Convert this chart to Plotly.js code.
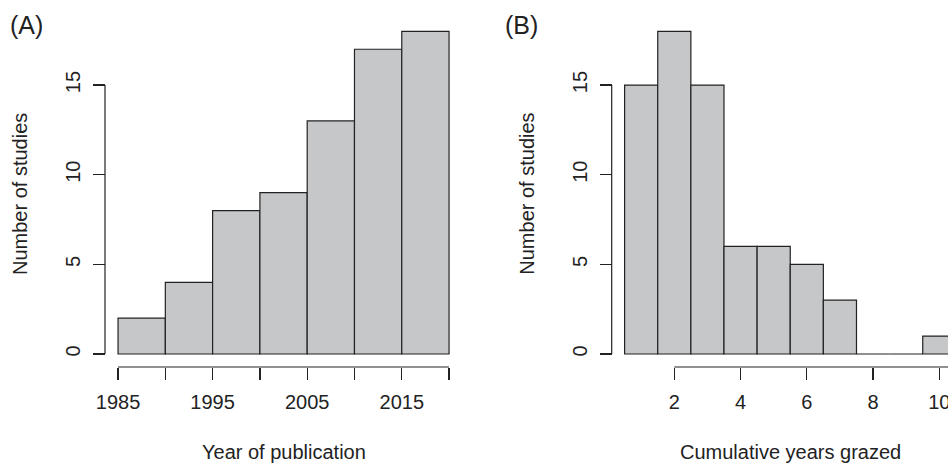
<!DOCTYPE html>
<html>
<head>
<meta charset="utf-8">
<script src="https://cdn.plot.ly/plotly-3.0.1.min.js"></script>
<style>html,body{margin:0;padding:0;background:#fff;}#chart{width:948px;height:464px;}</style>
</head>
<body>
<div id="chart"></div>
<script>
// ---- Data ----
// Panel A: year of publication, 5-year bins
const yearBinStarts = [1985, 1990, 1995, 2000, 2005, 2010, 2015];
const yearBinWidth = 5;
const yearCounts = [2, 4, 8, 9, 13, 17, 18];
const yearTickVals = [1985, 1990, 1995, 2000, 2005, 2010, 2015, 2020];
const yearTickText = ['1985', '', '1995', '', '2005', '', '2015', ''];

// Panel B: cumulative years grazed, unit bins centred on integers
const grazedYears = [1, 2, 3, 4, 5, 6, 7, 8, 9, 10];
const grazedCounts = [15, 18, 15, 6, 6, 5, 3, 0, 0, 1];
const grazedTickVals = [2, 4, 6, 8, 10];

const countTickVals = [0, 5, 10, 15];

// ---- Style ----
const W = 948, H = 464;
const px = v => v / W;          // pixel -> paper x
const py = v => 1 - v / H;      // pixel -> paper y
const ink = '#222222';
const barFill = '#c6c7c9';
const font = {family: '"Liberation Sans", Arial, Helvetica, sans-serif', size: 20, color: ink};

const traces = [
  {
    type: 'bar',
    x: yearBinStarts.map(s => s + yearBinWidth / 2),
    y: yearCounts,
    width: yearBinWidth,
    marker: {color: barFill, line: {color: ink, width: 1.2}},
    xaxis: 'x', yaxis: 'y', hoverinfo: 'x+y'
  },
  {
    type: 'bar',
    x: grazedYears,
    y: grazedCounts,
    width: 1,
    marker: {color: barFill, line: {color: ink, width: 1.2}},
    xaxis: 'x2', yaxis: 'y2', hoverinfo: 'x+y'
  }
];

const yDomain = [py(366.9), py(18.4)];
const yRange = [-0.72, 18.72];
const xAxisPos = py(367);

function xAx(domain, range, tickvals, ticktext) {
  const a = {
    domain: domain, range: range, anchor: 'free', position: xAxisPos,
    showgrid: false, zeroline: false, showline: false,
    ticks: 'outside', ticklen: 12, tickwidth: 1.2, tickcolor: ink,
    tickvals: tickvals, tickfont: font, ticklabelstandoff: 5,
    ticklabeloverflow: 'allow',
    fixedrange: true
  };
  if (ticktext) a.ticktext = ticktext;
  return a;
}
function yAx(pos) {
  return {
    domain: yDomain, range: yRange, anchor: 'free', position: pos,
    showgrid: false, zeroline: false, showline: false,
    ticks: 'outside', ticklen: 12, tickwidth: 1.2, tickcolor: ink,
    tickvals: countTickVals, tickangle: -90, tickfont: font, ticklabelstandoff: 5,
    ticklabeloverflow: 'allow',
    fixedrange: true
  };
}

const yPosA = px(105), yPosB = px(611.7);

const layout = {
  width: W, height: H,
  margin: {l: 0, r: 0, t: 0, b: 0, pad: 0},
  paper_bgcolor: '#ffffff', plot_bgcolor: '#ffffff',
  showlegend: false, bargap: 0, font: font,
  xaxis: xAx([px(104.8), px(462.3)], [1983.6, 2021.4], yearTickVals, yearTickText),
  yaxis: yAx(yPosA),
  xaxis2: xAx([px(611.7), 1], [0.11, 2 + (948 - 674.3) / 33.125], grazedTickVals),
  yaxis2: yAx(yPosB),
  shapes: [
    // axis lines spanning first to last tick (R style)
    {type: 'line', xref: 'x', yref: 'paper', x0: yearTickVals[0], x1: yearTickVals[yearTickVals.length - 1], y0: xAxisPos, y1: xAxisPos, line: {color: ink, width: 1.2}},
    {type: 'line', xref: 'paper', yref: 'y', x0: yPosA, x1: yPosA, y0: countTickVals[0], y1: countTickVals[countTickVals.length - 1], line: {color: ink, width: 1.2}},
    {type: 'line', xref: 'x2', yref: 'paper', x0: grazedTickVals[0], x1: 12, y0: xAxisPos, y1: xAxisPos, line: {color: ink, width: 1.2}},
    {type: 'line', xref: 'paper', yref: 'y2', x0: yPosB, x1: yPosB, y0: countTickVals[0], y1: countTickVals[countTickVals.length - 1], line: {color: ink, width: 1.2}}
  ],
  annotations: [
    {text: '(A)', x: px(26), y: py(24.5), xref: 'paper', yref: 'paper', xanchor: 'center', yanchor: 'middle', showarrow: false, font: {family: font.family, size: 25, color: ink}},
    {text: '(B)', x: px(521.5), y: py(24.5), xref: 'paper', yref: 'paper', xanchor: 'center', yanchor: 'middle', showarrow: false, font: {family: font.family, size: 25, color: ink}},
    {text: 'Year of publication', x: px(283.5), y: py(452), xref: 'paper', yref: 'paper', xanchor: 'center', yanchor: 'middle', showarrow: false, font: font},
    {text: 'Cumulative years grazed', x: px(790), y: py(452), xref: 'paper', yref: 'paper', xanchor: 'center', yanchor: 'middle', showarrow: false, font: font},
    {text: 'Number of studies', x: px(20), y: py(194), xref: 'paper', yref: 'paper', xanchor: 'center', yanchor: 'middle', textangle: -90, showarrow: false, font: font},
    {text: 'Number of studies', x: px(526.7), y: py(194), xref: 'paper', yref: 'paper', xanchor: 'center', yanchor: 'middle', textangle: -90, showarrow: false, font: font}
  ]
};

Plotly.newPlot('chart', traces, layout, {staticPlot: true, displayModeBar: false});
</script>
</body>
</html>
